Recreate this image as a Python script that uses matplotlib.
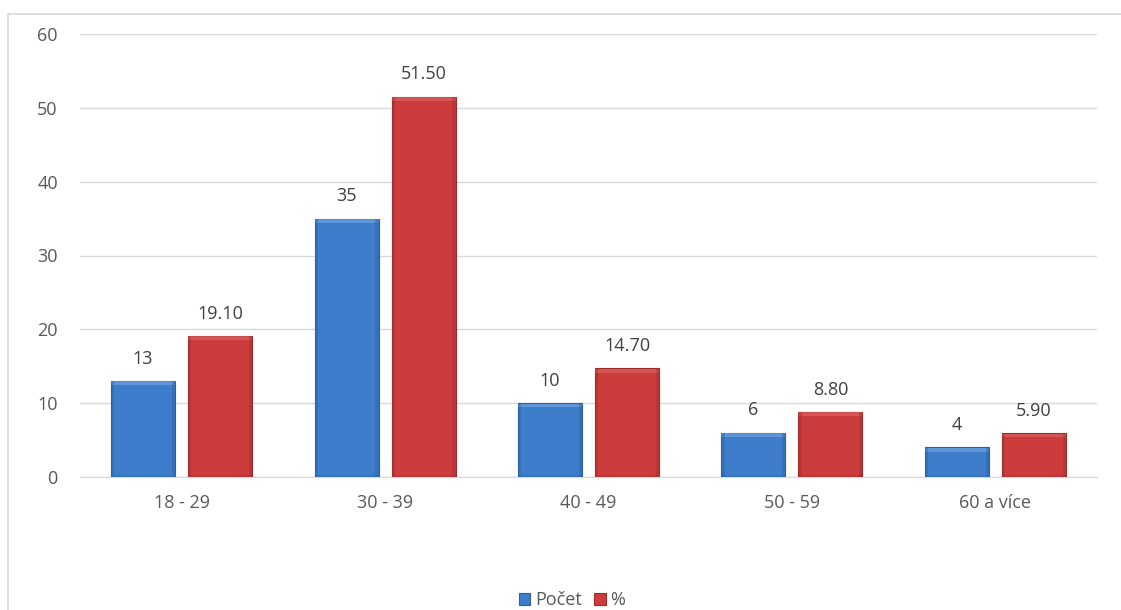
import numpy as np
import matplotlib.pyplot as plt
from matplotlib.patches import Rectangle

plt.rcParams['font.family'] = ['Open Sans', 'DejaVu Sans']

# data
categories = ["18 - 29", "30 - 39", "40 - 49", "50 - 59", "60 a více"]
pocet = [13, 35, 10, 6, 4]
procenta = [19.10, 51.50, 14.70, 8.80, 5.90]

blue = "#3d7dcb"
red = "#cd3c3c"

fig = plt.figure(figsize=(11.21, 6.10), dpi=100)
ax = fig.add_axes([80 / 1121, 1 - 477 / 610, 1017 / 1121, 443 / 610])

x = np.arange(len(categories))
width = 0.315
gap = 0.064
off = width / 2 + gap / 2

b1 = ax.bar(x - off, pocet, width, color=blue, edgecolor="#2d5f9e", linewidth=0.8, zorder=3, label="Počet")
b2 = ax.bar(x + off, procenta, width, color=red, edgecolor="#9a2b2b", linewidth=0.8, zorder=3, label="%")

# soft bevel: light strip under the top edge, darker strips at the sides
for bars, light, dark in [(b1, "#6da1df", "#2c63a8"), (b2, "#de6161", "#a52f2f")]:
    for r in bars:
        bx, bw, bh = r.get_x(), r.get_width(), r.get_height()
        ax.add_patch(Rectangle((bx, bh - 0.55), bw, 0.5, color=light, alpha=0.7, zorder=4, lw=0))
        ax.add_patch(Rectangle((bx, 0), bw * 0.05, bh, color=dark, alpha=0.45, zorder=4, lw=0))
        ax.add_patch(Rectangle((bx + bw * 0.95, 0), bw * 0.05, bh, color=dark, alpha=0.45, zorder=4, lw=0))
        ax.add_patch(Rectangle((bx, 0), bw, 0.3, color=dark, alpha=0.35, zorder=4, lw=0))

for r, v in zip(b1, pocet):
    ax.text(r.get_x() + r.get_width() / 2, v + 1.8, f"{v}", ha="center", va="bottom",
            fontsize=13, color="#404040")
for r, v in zip(b2, procenta):
    ax.text(r.get_x() + r.get_width() / 2, v + 1.8, f"{v:.2f}", ha="center", va="bottom",
            fontsize=13, color="#404040")

ax.set_xlim(-0.5, len(categories) - 0.5)
ax.set_ylim(0, 60)
ax.set_yticks(range(0, 61, 10))
ax.set_xticks(x)
ax.set_xticklabels(categories)
ax.tick_params(axis="both", length=0, labelsize=13, colors="#595959")
ax.tick_params(axis="y", pad=16)
ax.tick_params(axis="x", pad=12)
ax.yaxis.grid(True, color="#d9d9d9", linewidth=1, zorder=0)
for s in ["top", "right", "left"]:
    ax.spines[s].set_visible(False)
ax.spines["bottom"].set_color("#d9d9d9")

fig.legend(handles=[b1, b2], labels=["Počet", "%"], loc="center",
           bbox_to_anchor=(572 / 1121, 1 - 600 / 610), ncol=2, frameon=False,
           fontsize=13, handlelength=0.65, handleheight=0.65, handletextpad=0.25,
           columnspacing=0.7, labelcolor="#595959", borderpad=0.1)

# chart frame
fig.patches.append(Rectangle((8 / 1121, -0.05), 1.1, 1 - 14 / 610 + 0.05, transform=fig.transFigure,
                             fill=False, edgecolor="#d9d9d9", linewidth=1.2))

fig.savefig("out.png", dpi=100)
